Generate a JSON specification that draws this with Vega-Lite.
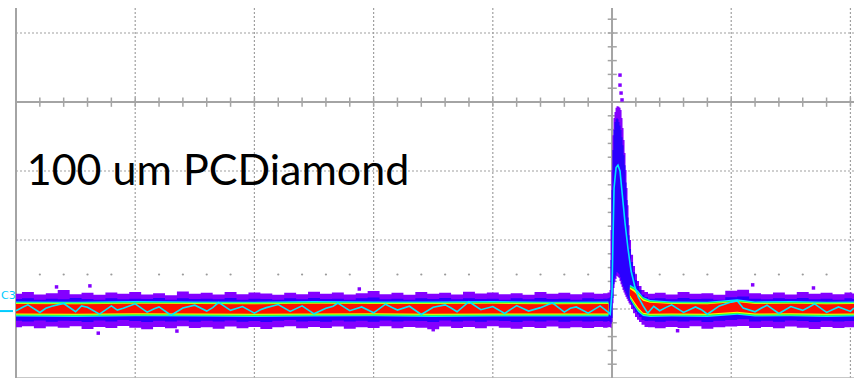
{
"$schema": "https://vega.github.io/schema/vega-lite/v6.json",
"width": 838, "height": 370,
"autosize": {"type": "none"},
"padding": {"left": 16, "top": 8, "right": 0, "bottom": 0},
"background": "white",
"config": {"view": {"stroke": null}},
"datasets": {
"P": [
{"x":-50,"ph":4.4,"pl":-5.3,"bh":2.9,"bl":-3.4},
{"x":-49,"ph":4.9,"pl":-5.0,"bh":3.1,"bl":-3.6},
{"x":-48,"ph":4.2,"pl":-5.6,"bh":2.7,"bl":-3.3},
{"x":-47,"ph":4.6,"pl":-5.1,"bh":3.0,"bl":-3.7},
{"x":-46,"ph":5.5,"pl":-5.4,"bh":2.8,"bl":-3.4},
{"x":-45,"ph":4.3,"pl":-5.0,"bh":3.2,"bl":-3.5},
{"x":-44,"ph":4.7,"pl":-5.8,"bh":2.9,"bl":-3.8},
{"x":-43,"ph":4.1,"pl":-5.2,"bh":2.7,"bl":-3.3},
{"x":-42,"ph":4.8,"pl":-5.5,"bh":3.1,"bl":-3.6},
{"x":-41,"ph":4.4,"pl":-4.9,"bh":2.8,"bl":-3.2},
{"x":-40,"ph":4.9,"pl":-5.4,"bh":3.0,"bl":-3.5},
{"x":-39,"ph":4.2,"pl":-5.9,"bh":2.9,"bl":-3.8},
{"x":-38,"ph":4.6,"pl":-5.2,"bh":3.2,"bl":-3.4},
{"x":-37,"ph":4.0,"pl":-5.6,"bh":2.7,"bl":-3.6},
{"x":-36,"ph":5.1,"pl":-5.0,"bh":3.1,"bl":-3.3},
{"x":-35,"ph":4.4,"pl":-5.5,"bh":2.9,"bl":-3.7},
{"x":-34,"ph":4.7,"pl":-5.3,"bh":3.0,"bl":-3.4},
{"x":-33,"ph":4.2,"pl":-5.7,"bh":2.8,"bl":-3.6},
{"x":-32,"ph":4.9,"pl":-5.1,"bh":3.2,"bl":-3.3},
{"x":-31,"ph":4.3,"pl":-5.6,"bh":2.7,"bl":-3.7},
{"x":-30,"ph":4.8,"pl":-5.2,"bh":3.0,"bl":-3.5},
{"x":-29,"ph":4.5,"pl":-5.8,"bh":2.9,"bl":-3.8},
{"x":-28,"ph":4.1,"pl":-5.3,"bh":2.7,"bl":-3.4},
{"x":-27,"ph":4.7,"pl":-5.0,"bh":3.1,"bl":-3.2},
{"x":-26,"ph":4.3,"pl":-5.6,"bh":2.8,"bl":-3.6},
{"x":-25,"ph":5.0,"pl":-5.2,"bh":3.2,"bl":-3.5},
{"x":-24,"ph":4.4,"pl":-5.5,"bh":2.9,"bl":-3.7},
{"x":-23,"ph":4.8,"pl":-5.1,"bh":3.0,"bl":-3.3},
{"x":-22,"ph":4.2,"pl":-5.7,"bh":2.7,"bl":-3.6},
{"x":-21,"ph":4.6,"pl":-5.3,"bh":3.1,"bl":-3.4},
{"x":-20,"ph":5.2,"pl":-5.5,"bh":3.3,"bl":-3.7},
{"x":-19,"ph":4.3,"pl":-5.0,"bh":2.8,"bl":-3.3},
{"x":-18,"ph":4.7,"pl":-5.6,"bh":3.0,"bl":-3.6},
{"x":-17,"ph":4.1,"pl":-5.2,"bh":2.7,"bl":-3.4},
{"x":-16,"ph":4.9,"pl":-5.4,"bh":3.1,"bl":-3.5},
{"x":-15,"ph":4.4,"pl":-5.9,"bh":2.9,"bl":-3.8},
{"x":-14,"ph":4.7,"pl":-5.1,"bh":3.2,"bl":-3.3},
{"x":-13,"ph":4.2,"pl":-5.5,"bh":2.8,"bl":-3.6},
{"x":-12,"ph":5.0,"pl":-5.2,"bh":3.1,"bl":-3.4},
{"x":-11,"ph":4.5,"pl":-5.6,"bh":2.9,"bl":-3.7},
{"x":-10,"ph":4.8,"pl":-5.0,"bh":3.0,"bl":-3.3},
{"x":-9,"ph":4.3,"pl":-5.4,"bh":2.7,"bl":-3.5},
{"x":-8,"ph":4.6,"pl":-5.7,"bh":3.1,"bl":-3.8},
{"x":-7,"ph":4.1,"pl":-5.2,"bh":2.8,"bl":-3.4},
{"x":-6,"ph":4.9,"pl":-5.5,"bh":3.2,"bl":-3.6},
{"x":-5,"ph":4.4,"pl":-5.1,"bh":2.9,"bl":-3.3},
{"x":-4,"ph":4.7,"pl":-5.6,"bh":3.0,"bl":-3.7},
{"x":-3,"ph":4.3,"pl":-5.3,"bh":2.7,"bl":-3.4},
{"x":-2,"ph":4.8,"pl":-5.5,"bh":3.1,"bl":-3.6},
{"x":-1,"ph":4.4,"pl":-5.2,"bh":2.9,"bl":-3.5},
{"x":-0.5,"ph":4.6,"pl":-5.4,"bh":3.0,"bl":-3.6},
{"x":-0.25,"ph":4.8,"pl":-5.3,"bh":3.1,"bl":-3.5},
{"x":-0.17,"ph":5.5,"pl":-5.2,"bh":3.4,"bl":-3.7},
{"x":-0.08,"ph":22.9,"pl":-5.5,"bh":14.2,"bl":-4.3},
{"x":0,"ph":40.3,"pl":-3.8,"bh":34.5,"bl":-2.6},
{"x":0.08,"ph":50.4,"pl":1.7,"bh":46.1,"bl":3.2},
{"x":0.17,"ph":55.4,"pl":6.1,"bh":51.9,"bl":7.2},
{"x":0.25,"ph":57.1,"pl":7.8,"bh":54.2,"bl":9.0},
{"x":0.34,"ph":58.3,"pl":8.7,"bh":55.0,"bl":9.9},
{"x":0.42,"ph":58.8,"pl":9.6,"bh":55.4,"bl":10.7},
{"x":0.5,"ph":58.8,"pl":9.3,"bh":55.0,"bl":10.4},
{"x":0.59,"ph":58.6,"pl":9.0,"bh":54.2,"bl":10.1},
{"x":0.67,"ph":58.3,"pl":8.1,"bh":53.2,"bl":9.3},
{"x":0.76,"ph":57.7,"pl":7.2,"bh":51.9,"bl":8.4},
{"x":0.84,"ph":55.4,"pl":6.4,"bh":49.8,"bl":7.5},
{"x":0.92,"ph":52.5,"pl":5.5,"bh":47.5,"bl":6.7},
{"x":1.01,"ph":49.0,"pl":4.8,"bh":44.6,"bl":5.9},
{"x":1.09,"ph":45.2,"pl":4.1,"bh":41.7,"bl":5.2},
{"x":1.17,"ph":40.3,"pl":3.5,"bh":36.7,"bl":4.5},
{"x":1.26,"ph":35.1,"pl":2.9,"bh":31.6,"bl":3.8},
{"x":1.34,"ph":30.1,"pl":2.3,"bh":26.5,"bl":3.2},
{"x":1.43,"ph":24.3,"pl":1.7,"bh":21.4,"bl":2.6},
{"x":1.51,"ph":20.0,"pl":1.2,"bh":17.4,"bl":2.0},
{"x":1.68,"ph":15.7,"pl":0.0,"bh":13.6,"bl":1.2},
{"x":1.85,"ph":12.5,"pl":-1.2,"bh":10.7,"bl":0.2},
{"x":2.01,"ph":10.1,"pl":-2.3,"bh":8.4,"bl":-0.9},
{"x":2.18,"ph":8.1,"pl":-3.1,"bh":6.7,"bl":-1.6},
{"x":2.35,"ph":6.7,"pl":-3.8,"bh":5.5,"bl":-2.3},
{"x":2.6,"ph":5.5,"pl":-4.6,"bh":4.1,"bl":-3.2},
{"x":2.85,"ph":4.9,"pl":-5.2,"bh":3.5,"bl":-3.5},
{"x":3.19,"ph":4.4,"pl":-5.3,"bh":3.0,"bl":-3.4},
{"x":4,"ph":4.7,"pl":-5.6,"bh":3.1,"bl":-3.7},
{"x":5,"ph":4.2,"pl":-5.2,"bh":2.8,"bl":-3.4},
{"x":6,"ph":4.9,"pl":-5.5,"bh":3.2,"bl":-3.6},
{"x":7,"ph":4.4,"pl":-5.0,"bh":2.9,"bl":-3.3},
{"x":8,"ph":4.6,"pl":-5.7,"bh":3.0,"bl":-3.8},
{"x":9,"ph":4.1,"pl":-5.3,"bh":2.7,"bl":-3.4},
{"x":10,"ph":5.3,"pl":-5.1,"bh":3.4,"bl":-3.2},
{"x":11,"ph":5.6,"pl":-4.9,"bh":3.6,"bl":-3.0},
{"x":12,"ph":4.6,"pl":-5.5,"bh":3.0,"bl":-3.6},
{"x":13,"ph":4.3,"pl":-5.2,"bh":2.8,"bl":-3.4},
{"x":14,"ph":4.8,"pl":-5.6,"bh":3.1,"bl":-3.7},
{"x":15,"ph":4.2,"pl":-5.1,"bh":2.9,"bl":-3.3},
{"x":16,"ph":4.9,"pl":-5.4,"bh":3.2,"bl":-3.5},
{"x":17,"ph":4.4,"pl":-5.8,"bh":2.8,"bl":-3.8},
{"x":18,"ph":4.7,"pl":-5.2,"bh":3.0,"bl":-3.4},
{"x":19,"ph":4.3,"pl":-5.5,"bh":2.7,"bl":-3.6},
{"x":20,"ph":4.8,"pl":-5.3,"bh":3.1,"bl":-3.5},
{"x":20.3,"ph":4.5,"pl":-5.3,"bh":2.9,"bl":-3.5}
],
"I": [
{"x":-50,"s":1,"ch":2.2,"cl":-2.2,"gh":1.9,"gl":-1.9,"yh":1.65,"yl":-1.6,"rh":1.45,"rl":-1.3},
{"x":-45,"s":1,"ch":2.1,"cl":-2.3,"gh":1.85,"gl":-1.95,"yh":1.6,"yl":-1.65,"rh":1.4,"rl":-1.35},
{"x":-40,"s":1,"ch":2.3,"cl":-2.1,"gh":1.95,"gl":-1.85,"yh":1.7,"yl":-1.55,"rh":1.5,"rl":-1.25},
{"x":-35,"s":1,"ch":2.2,"cl":-2.2,"gh":1.9,"gl":-1.9,"yh":1.65,"yl":-1.6,"rh":1.45,"rl":-1.3},
{"x":-30,"s":1,"ch":2.1,"cl":-2.3,"gh":1.85,"gl":-2.0,"yh":1.6,"yl":-1.7,"rh":1.4,"rl":-1.4},
{"x":-25,"s":1,"ch":2.3,"cl":-2.2,"gh":1.95,"gl":-1.9,"yh":1.7,"yl":-1.6,"rh":1.5,"rl":-1.3},
{"x":-20,"s":1,"ch":2.2,"cl":-2.1,"gh":1.9,"gl":-1.85,"yh":1.65,"yl":-1.55,"rh":1.45,"rl":-1.25},
{"x":-15,"s":1,"ch":2.2,"cl":-2.3,"gh":1.9,"gl":-1.95,"yh":1.65,"yl":-1.65,"rh":1.45,"rl":-1.35},
{"x":-10,"s":1,"ch":2.3,"cl":-2.2,"gh":1.95,"gl":-1.9,"yh":1.7,"yl":-1.6,"rh":1.5,"rl":-1.3},
{"x":-5,"s":1,"ch":2.1,"cl":-2.2,"gh":1.85,"gl":-1.9,"yh":1.6,"yl":-1.6,"rh":1.4,"rl":-1.3},
{"x":-0.3,"s":1,"ch":2.2,"cl":-2.2,"gh":1.9,"gl":-1.9,"yh":1.65,"yl":-1.6,"rh":1.45,"rl":-1.3},
{"x":1.5,"s":2,"ch":7.0,"cl":3.0,"gh":6.6,"gl":3.3,"yh":6.2,"yl":3.6,"rh":5.8,"rl":4.0},
{"x":1.85,"s":2,"ch":6.4,"cl":0.9,"gh":6.0,"gl":1.3,"yh":5.6,"yl":1.7,"rh":5.0,"rl":2.2},
{"x":2.2,"s":2,"ch":5.2,"cl":-0.9,"gh":4.8,"gl":-0.5,"yh":4.4,"yl":-0.1,"rh":3.8,"rl":0.4},
{"x":2.6,"s":2,"ch":3.5,"cl":-2.0,"gh":3.2,"gl":-1.7,"yh":2.8,"yl":-1.4,"rh":2.4,"rl":-1.1},
{"x":3.2,"s":2,"ch":2.6,"cl":-2.3,"gh":2.3,"gl":-2.0,"yh":2.0,"yl":-1.7,"rh":1.8,"rl":-1.4},
{"x":5,"s":2,"ch":2.2,"cl":-2.2,"gh":1.9,"gl":-1.9,"yh":1.65,"yl":-1.6,"rh":1.45,"rl":-1.3},
{"x":8,"s":2,"ch":2.1,"cl":-2.3,"gh":1.85,"gl":-1.95,"yh":1.6,"yl":-1.65,"rh":1.4,"rl":-1.35},
{"x":10.5,"s":2,"ch":2.8,"cl":-1.7,"gh":2.5,"gl":-1.4,"yh":2.2,"yl":-1.1,"rh":2.0,"rl":-0.8},
{"x":12,"s":2,"ch":2.2,"cl":-2.2,"gh":1.9,"gl":-1.9,"yh":1.65,"yl":-1.6,"rh":1.45,"rl":-1.3},
{"x":15,"s":2,"ch":2.3,"cl":-2.1,"gh":1.95,"gl":-1.85,"yh":1.7,"yl":-1.55,"rh":1.5,"rl":-1.25},
{"x":18,"s":2,"ch":2.1,"cl":-2.3,"gh":1.85,"gl":-1.95,"yh":1.6,"yl":-1.65,"rh":1.4,"rl":-1.35},
{"x":20.3,"s":2,"ch":2.2,"cl":-2.2,"gh":1.9,"gl":-1.9,"yh":1.65,"yl":-1.6,"rh":1.45,"rl":-1.3}
],
"T": [
{"x":-50,"v":-0.5},{"x":-49.4,"v":0.6},{"x":-49,"v":1.2},{"x":-48,"v":-1.0},{"x":-47.5,"v":0.2},{"x":-47,"v":0.8},{"x":-46,"v":1.6},
{"x":-45,"v":-0.8},{"x":-44.5,"v":0.9},{"x":-44,"v":0.5},{"x":-43,"v":-1.5},{"x":-42,"v":0.9},{"x":-41.5,"v":-0.3},{"x":-41,"v":0.2},
{"x":-40,"v":1.5},{"x":-39,"v":-0.9},{"x":-38.4,"v":0.1},{"x":-38,"v":0.6},{"x":-37,"v":-1.8},{"x":-36,"v":0.3},
{"x":-35,"v":1.1},{"x":-34,"v":-0.6},{"x":-33.5,"v":0.4},{"x":-33,"v":1.9},{"x":-32,"v":-0.4},{"x":-31,"v":0.7},
{"x":-30,"v":-1.2},{"x":-29.5,"v":-0.2},{"x":-29,"v":0.4},{"x":-28,"v":1.3},{"x":-27,"v":-0.7},{"x":-26,"v":0.9},
{"x":-25,"v":-1.4},{"x":-24,"v":0.2},{"x":-23.4,"v":0.8},{"x":-23,"v":1.7},{"x":-22,"v":-0.5},{"x":-21,"v":0.6},
{"x":-20,"v":-1.1},{"x":-19,"v":1.4},{"x":-18.5,"v":0.5},{"x":-18,"v":-0.3},{"x":-17,"v":0.8},{"x":-16,"v":-1.6},
{"x":-15,"v":0.5},{"x":-14,"v":1.2},{"x":-13.5,"v":0.3},{"x":-13,"v":-0.8},{"x":-12,"v":2.1},{"x":-11,"v":-0.2},
{"x":-10,"v":0.7},{"x":-9,"v":-1.3},{"x":-8.5,"v":-0.1},{"x":-8,"v":1.0},{"x":-7,"v":-0.6},{"x":-6,"v":0.4},
{"x":-5,"v":1.8},{"x":-4,"v":-0.9},{"x":-3.5,"v":0.2},{"x":-3,"v":0.6},{"x":-2,"v":-1.2},{"x":-1,"v":0.9},
{"x":-0.3,"v":-1.0},{"x":-0.15,"v":-1.5},{"x":0,"v":5.0},{"x":0.08,"v":20},{"x":0.17,"v":35},
{"x":0.34,"v":41},{"x":0.5,"v":41.7},{"x":0.67,"v":40},{"x":0.84,"v":34},{"x":1.09,"v":25},
{"x":1.34,"v":17.5},{"x":1.6,"v":11},{"x":1.9,"v":6.7},{"x":2.2,"v":3.5},{"x":2.6,"v":1.0},
{"x":3.0,"v":-1.2},{"x":3.5,"v":0.8},{"x":4,"v":-0.5},{"x":4.5,"v":0.4},{"x":5,"v":1.2},{"x":6,"v":-1.0},
{"x":7,"v":0.6},{"x":7.5,"v":-0.2},{"x":8,"v":-1.5},{"x":9,"v":0.9},{"x":10,"v":2.0},{"x":10.5,"v":2.4},
{"x":11,"v":0.3},{"x":12,"v":-0.8},{"x":12.5,"v":0.2},{"x":13,"v":1.1},{"x":14,"v":-1.3},{"x":15,"v":0.7},
{"x":16,"v":-0.4},{"x":16.5,"v":0.5},{"x":17,"v":1.5},{"x":18,"v":-1.0},{"x":19,"v":0.6},{"x":20,"v":-0.7},{"x":20.3,"v":0.3}
],
"O": [
{"x":0.67,"v":67.8},{"x":0.67,"v":64.9},{"x":0.76,"v":62.6},{"x":0.84,"v":60.6},
{"x":-46.6,"v":6.4},{"x":-43.8,"v":6.7},{"x":-43.1,"v":-7.0},{"x":-21.2,"v":5.8},
{"x":-15.0,"v":-6.0},{"x":11.8,"v":7.0},{"x":16.9,"v":6.1},{"x":-36.5,"v":-6.4},{"x":5.5,"v":-6.3}
],
"TX": [
{"t":-48},{"t":-46},{"t":-44},{"t":-42},{"t":-40},{"t":-38},{"t":-36},{"t":-34},{"t":-32},{"t":-30},
{"t":-28},{"t":-26},{"t":-24},{"t":-22},{"t":-20},{"t":-18},{"t":-16},{"t":-14},{"t":-12},{"t":-10},
{"t":-8},{"t":-6},{"t":-4},{"t":-2},{"t":2},{"t":4},{"t":6},{"t":8},{"t":10},{"t":12},
{"t":14},{"t":16},{"t":18},{"t":20}
],
"TY": [
{"t":-16},{"t":-12},{"t":-8},{"t":-4},{"t":0},{"t":4},{"t":8},{"t":12},{"t":16},{"t":20},
{"t":24},{"t":28},{"t":32},{"t":36},{"t":40},{"t":44},{"t":48},{"t":52},{"t":56},{"t":64},
{"t":68},{"t":72},{"t":76},{"t":80},{"t":84}
]
},
"layer": [
{"data": {"values": [{"g":-40},{"g":-30},{"g":-20},{"g":-10},{"g":10},{"g":20}]},
 "mark": {"type": "rule", "color": "#a0a0a0", "strokeWidth": 1.2, "strokeDash": [2, 2]},
 "encoding": {"x": {"field": "g", "type": "quantitative", "scale": {"domain": [-50, 20.3], "nice": false, "zero": false}, "axis": null}}},
{"data": {"values": [{"g":80},{"g":40},{"g":20},{"g":0}]},
 "mark": {"type": "rule", "color": "#a0a0a0", "strokeWidth": 1.2, "strokeDash": [2, 2]},
 "encoding": {"y": {"field": "g", "type": "quantitative", "scale": {"domain": [-20, 87.25], "nice": false, "zero": false}, "axis": null}}},
{"data": {"values": [{"g":-20}]},
 "mark": {"type": "rule", "color": "#b4b4b4", "strokeWidth": 1.5},
 "encoding": {"y": {"field": "g", "type": "quantitative", "scale": {"domain": [-20, 87.25], "nice": false, "zero": false}, "axis": null}}},
{"data": {"values": [{"g":-50},{"g":0}]},
 "mark": {"type": "rule", "color": "#a4a4a4", "strokeWidth": 2},
 "encoding": {"x": {"field": "g", "type": "quantitative", "scale": {"domain": [-50, 20.3], "nice": false, "zero": false}, "axis": null}}},
{"data": {"values": [{"g":60}]},
 "mark": {"type": "rule", "color": "#a4a4a4", "strokeWidth": 2},
 "encoding": {"y": {"field": "g", "type": "quantitative", "scale": {"domain": [-20, 87.25], "nice": false, "zero": false}, "axis": null}}},
{"data": {"name": "TX"},
 "mark": {"type": "rule", "color": "#a4a4a4", "strokeWidth": 1.5},
 "encoding": {
  "x": {"field": "t", "type": "quantitative", "scale": {"domain": [-50, 20.3], "nice": false, "zero": false}, "axis": null},
  "y": {"datum": 58.6, "type": "quantitative", "scale": {"domain": [-20, 87.25], "nice": false, "zero": false}, "axis": null},
  "y2": {"datum": 61.3}}},
{"data": {"name": "TY"},
 "mark": {"type": "rule", "color": "#a4a4a4", "strokeWidth": 1.5},
 "encoding": {
  "y": {"field": "t", "type": "quantitative", "scale": {"domain": [-20, 87.25], "nice": false, "zero": false}, "axis": null},
  "x": {"datum": -0.36, "type": "quantitative", "scale": {"domain": [-50, 20.3], "nice": false, "zero": false}, "axis": null},
  "x2": {"datum": 0.4}}},
{"data": {"name": "TX"},
 "transform": [{"filter": "datum.t % 10 != 0"}],
 "mark": {"type": "point", "filled": true, "color": "#9a9a9a", "size": 5, "opacity": 1},
 "encoding": {
  "x": {"field": "t", "type": "quantitative", "scale": {"domain": [-50, 20.3], "nice": false, "zero": false}, "axis": null},
  "y": {"datum": 10, "type": "quantitative", "scale": {"domain": [-20, 87.25], "nice": false, "zero": false}, "axis": null}}},
{"data": {"name": "P"},
 "mark": {"type": "area", "color": "#8400ff", "interpolate": "step", "opacity": 1},
 "encoding": {
  "x": {"field": "x", "type": "quantitative", "scale": {"domain": [-50, 20.3], "nice": false, "zero": false}, "axis": null},
  "y": {"field": "ph", "type": "quantitative", "scale": {"domain": [-20, 87.25], "nice": false, "zero": false}, "axis": null},
  "y2": {"field": "pl"}}},
{"data": {"name": "P"},
 "mark": {"type": "area", "color": "#2a00ff", "interpolate": "step", "opacity": 1},
 "encoding": {
  "x": {"field": "x", "type": "quantitative", "scale": {"domain": [-50, 20.3], "nice": false, "zero": false}, "axis": null},
  "y": {"field": "bh", "type": "quantitative", "scale": {"domain": [-20, 87.25], "nice": false, "zero": false}, "axis": null},
  "y2": {"field": "bl"}}},
{"data": {"name": "I"},
 "mark": {"type": "area", "color": "#00e8ff", "opacity": 1},
 "encoding": {
  "x": {"field": "x", "type": "quantitative", "scale": {"domain": [-50, 20.3], "nice": false, "zero": false}, "axis": null},
  "y": {"field": "ch", "type": "quantitative", "scale": {"domain": [-20, 87.25], "nice": false, "zero": false}, "axis": null},
  "y2": {"field": "cl"}, "detail": {"field": "s"}}},
{"data": {"name": "I"},
 "mark": {"type": "area", "color": "#30ff30", "opacity": 1},
 "encoding": {
  "x": {"field": "x", "type": "quantitative", "scale": {"domain": [-50, 20.3], "nice": false, "zero": false}, "axis": null},
  "y": {"field": "gh", "type": "quantitative", "scale": {"domain": [-20, 87.25], "nice": false, "zero": false}, "axis": null},
  "y2": {"field": "gl"}, "detail": {"field": "s"}}},
{"data": {"name": "I"},
 "mark": {"type": "area", "color": "#ffff00", "opacity": 1},
 "encoding": {
  "x": {"field": "x", "type": "quantitative", "scale": {"domain": [-50, 20.3], "nice": false, "zero": false}, "axis": null},
  "y": {"field": "yh", "type": "quantitative", "scale": {"domain": [-20, 87.25], "nice": false, "zero": false}, "axis": null},
  "y2": {"field": "yl"}, "detail": {"field": "s"}}},
{"data": {"name": "I"},
 "mark": {"type": "area", "color": "#ff1000", "opacity": 1},
 "encoding": {
  "x": {"field": "x", "type": "quantitative", "scale": {"domain": [-50, 20.3], "nice": false, "zero": false}, "axis": null},
  "y": {"field": "rh", "type": "quantitative", "scale": {"domain": [-20, 87.25], "nice": false, "zero": false}, "axis": null},
  "y2": {"field": "rl"}, "detail": {"field": "s"}}},
{"data": {"name": "T"},
 "mark": {"type": "line", "color": "#00e5ff", "strokeWidth": 1.6},
 "encoding": {
  "x": {"field": "x", "type": "quantitative", "scale": {"domain": [-50, 20.3], "nice": false, "zero": false}, "axis": null},
  "y": {"field": "v", "type": "quantitative", "scale": {"domain": [-20, 87.25], "nice": false, "zero": false}, "axis": null}}},
{"data": {"name": "O"},
 "mark": {"type": "square", "color": "#8400ff", "size": 12, "opacity": 1},
 "encoding": {
  "x": {"field": "x", "type": "quantitative", "scale": {"domain": [-50, 20.3], "nice": false, "zero": false}, "axis": null},
  "y": {"field": "v", "type": "quantitative", "scale": {"domain": [-20, 87.25], "nice": false, "zero": false}, "axis": null}}},
{"data": {"values": [{"label": "100 um PCDiamond"}]},
 "mark": {"type": "text", "font": "Lato", "fontSize": 43, "color": "#000000", "align": "left", "baseline": "alphabetic"},
 "encoding": {
  "x": {"datum": -49.1, "type": "quantitative", "scale": {"domain": [-50, 20.3], "nice": false, "zero": false}, "axis": null},
  "y": {"datum": 35.9, "type": "quantitative", "scale": {"domain": [-20, 87.25], "nice": false, "zero": false}, "axis": null},
  "text": {"field": "label"}}},
{"data": {"values": [{"label": "C3"}]},
 "mark": {"type": "text", "font": "DejaVu Sans", "fontSize": 11, "color": "#00ccff", "align": "left", "baseline": "middle"},
 "encoding": {
  "x": {"datum": -51.25, "type": "quantitative", "scale": {"domain": [-50, 20.3], "nice": false, "zero": false}, "axis": null},
  "y": {"datum": 3.8, "type": "quantitative", "scale": {"domain": [-20, 87.25], "nice": false, "zero": false}, "axis": null},
  "text": {"field": "label"}}},
{"data": {"values": [{"a": -51.4, "b": -50.25}]},
 "mark": {"type": "rule", "color": "#00ccff", "strokeWidth": 2},
 "encoding": {
  "x": {"field": "a", "type": "quantitative", "scale": {"domain": [-50, 20.3], "nice": false, "zero": false}, "axis": null},
  "x2": {"field": "b"},
  "y": {"datum": -0.6, "type": "quantitative", "scale": {"domain": [-20, 87.25], "nice": false, "zero": false}, "axis": null}}}
]
}
